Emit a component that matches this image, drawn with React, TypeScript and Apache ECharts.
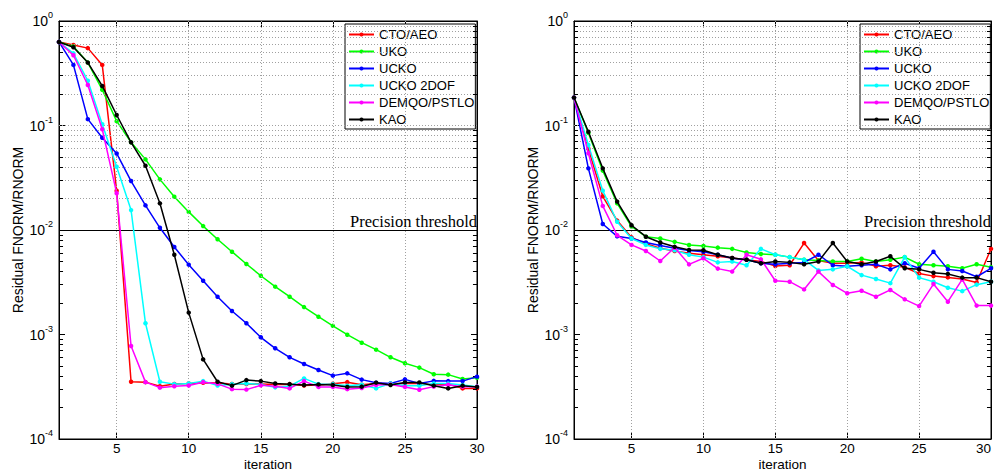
import React, { useEffect, useRef } from 'react';
import * as echarts from 'echarts';

const iterations = [1, 2, 3, 4, 5, 6, 7, 8, 9, 10, 11, 12, 13, 14, 15, 16, 17, 18, 19, 20, 21, 22, 23, 24, 25, 26, 27, 28, 29, 30];
const seriesNames = ['CTO/AEO', 'UKO', 'UCKO', 'UCKO 2DOF', 'DEMQO/PSTLO', 'KAO'];
const seriesColors = ['#ff0000', '#00ff00', '#0000ff', '#00ffff', '#ff00ff', '#000000'];
const xTickLabels = [5, 10, 15, 20, 25, 30];
const xGridValues = [5, 10, 15, 20, 25];
const decadeGridValues = [1e-3, 1e-2, 1e-1];
const minorMantissas = [2, 3, 4, 5, 6, 7, 8, 9];
const minorDecades = [1e-4, 1e-3, 1e-2, 1e-1];
const thresholdValue = 0.01;
const thresholdLabel = 'Precision threshold';

// Left panel
const leftCTO = [0.63, 0.59, 0.55, 0.38, 0.0238, 3.53e-4, 3.5e-4, 3.2e-4, 3.36e-4, 3.4e-4, 3.45e-4, 3.43e-4, 3.36e-4, 3.36e-4, 3.36e-4, 3.33e-4, 3.35e-4, 3.25e-4, 3.28e-4, 3.38e-4, 3.5e-4, 3.3e-4, 3.4e-4, 3.38e-4, 3.4e-4, 3.4e-4, 3.3e-4, 3.35e-4, 3.05e-4, 3.05e-4];
const leftUKO = [0.63, 0.57, 0.4, 0.22, 0.11, 0.069, 0.0474, 0.0305, 0.0208, 0.0149, 0.0109, 0.00815, 0.0062, 0.00473, 0.00365, 0.00287, 0.0023, 0.00183, 0.00148, 0.00121, 0.000996, 0.000835, 0.000716, 0.000605, 0.00053, 0.000482, 0.000416, 0.000413, 0.000375, 0.000385];
const leftUCKO = [0.63, 0.38, 0.115, 0.0764, 0.054, 0.0294, 0.0172, 0.0105, 0.00688, 0.00466, 0.00327, 0.0023, 0.00168, 0.00128, 0.00094, 0.000738, 0.000605, 0.000522, 0.000457, 0.000404, 0.000425, 0.00037, 0.000346, 0.00034, 0.000372, 0.00034, 0.00036, 0.000358, 0.000358, 0.000395];
const leftUCKO2 = [0.63, 0.49, 0.268, 0.103, 0.0403, 0.0155, 0.00128, 0.000353, 0.000335, 0.00034, 0.000358, 0.000325, 0.000335, 0.00034, 0.000333, 0.000312, 0.00032, 0.00038, 0.000335, 0.000335, 0.000323, 0.000331, 0.000305, 0.00034, 0.000323, 0.000323, 0.00034, 0.00034, 0.000329, 0.000317];
const leftDEMQO = [0.63, 0.47, 0.244, 0.092, 0.0225, 0.000776, 0.00035, 0.00031, 0.00032, 0.000325, 0.00035, 0.000337, 0.0003, 0.000297, 0.000326, 0.00032, 0.000305, 0.000358, 0.000315, 0.000315, 0.0003, 0.000307, 0.000329, 0.000333, 0.000315, 0.000296, 0.000317, 0.000331, 0.000317, 0.000317];
const leftKAO = [0.63, 0.56, 0.4, 0.239, 0.126, 0.069, 0.0412, 0.018, 0.0058, 0.00162, 0.000578, 0.000353, 0.000324, 0.000366, 0.000358, 0.00034, 0.000335, 0.000329, 0.000333, 0.000329, 0.000315, 0.000317, 0.000346, 0.000329, 0.000348, 0.000348, 0.000324, 0.000305, 0.000324, 0.000315];

// Right panel
const rightCTO = [0.185, 0.06, 0.021, 0.0123, 0.0085, 0.0074, 0.0067, 0.0063, 0.006, 0.0058, 0.0056, 0.0054, 0.0052, 0.005, 0.00453, 0.0046, 0.0075, 0.0051, 0.0048, 0.0048, 0.0049, 0.0045, 0.0046, 0.0044, 0.00384, 0.00362, 0.00352, 0.0034, 0.00315, 0.0066];
const rightUKO = [0.185, 0.085, 0.037, 0.018, 0.0108, 0.00863, 0.0083, 0.0077, 0.00718, 0.00703, 0.00678, 0.0066, 0.0061, 0.0059, 0.0058, 0.0055, 0.0052, 0.0051, 0.005, 0.005, 0.0053, 0.005, 0.0052, 0.0055, 0.0047, 0.0046, 0.0045, 0.0043, 0.0047, 0.0044];
const rightUCKO = [0.185, 0.0389, 0.0114, 0.0087, 0.0083, 0.0076, 0.0071, 0.0067, 0.00635, 0.0062, 0.0058, 0.00536, 0.0052, 0.0048, 0.0047, 0.0048, 0.0049, 0.0058, 0.0046, 0.0045, 0.0046, 0.0047, 0.0042, 0.0048, 0.0043, 0.0062, 0.0042, 0.00405, 0.00357, 0.0043];
const rightUCKO2 = [0.185, 0.065, 0.0238, 0.012, 0.0083, 0.0072, 0.0066, 0.0064, 0.0058, 0.0055, 0.0049, 0.005, 0.0046, 0.0066, 0.0058, 0.0055, 0.0052, 0.0041, 0.0042, 0.0045, 0.0037, 0.0034, 0.0031, 0.0055, 0.0035, 0.0032, 0.0028, 0.0026, 0.003, 0.0032];
const rightDEMQO = [0.185, 0.0542, 0.017, 0.0089, 0.0072, 0.0063, 0.00505, 0.0068, 0.00469, 0.00536, 0.00427, 0.004, 0.0058, 0.00524, 0.00327, 0.0032, 0.0027, 0.004, 0.00298, 0.00248, 0.00262, 0.0023, 0.00267, 0.00217, 0.00187, 0.00304, 0.00206, 0.00337, 0.00189, 0.00189];
const rightKAO = [0.185, 0.0872, 0.0389, 0.0187, 0.0111, 0.00863, 0.0076, 0.0069, 0.00645, 0.0064, 0.0058, 0.0054, 0.0052, 0.0048, 0.005, 0.0049, 0.0047, 0.005, 0.0075, 0.005, 0.0047, 0.005, 0.0056, 0.0043, 0.0042, 0.0039, 0.0038, 0.0035, 0.0035, 0.0032];

const leftData = [leftCTO, leftUKO, leftUCKO, leftUCKO2, leftDEMQO, leftKAO];
const rightData = [rightCTO, rightUKO, rightUCKO, rightUCKO2, rightDEMQO, rightKAO];

const SANS = 'Liberation Sans, Arial, Helvetica, sans-serif';
const SERIF = 'Liberation Serif, Times New Roman, serif';

function buildPanel(gridIndex: number, data: number[][]) {
  const xBottom = gridIndex * 2;
  const yLeft = gridIndex * 2;

  const minorValues: number[] = [];
  minorDecades.forEach((d) => minorMantissas.forEach((m) => minorValues.push(m * d)));

  const gridStyle = { color: '#a0a0a0', width: 1, type: [1, 2] as number[] };
  const markData: any[] = [];
  minorValues.concat(decadeGridValues).forEach((v) => {
    markData.push({ yAxis: v, lineStyle: gridStyle });
  });
  xGridValues.forEach((v) => {
    markData.push({ xAxis: v, lineStyle: gridStyle });
  });
  const tickStyle = { color: '#000', width: 1, type: 'solid' };
  minorValues.forEach((v) => {
    markData.push([{ coord: [1, v], lineStyle: tickStyle }, { coord: [1.28, v] }]);
    markData.push([{ coord: [29.72, v], lineStyle: tickStyle }, { coord: [30, v] }]);
  });
  markData.push({
    yAxis: thresholdValue,
    lineStyle: { color: '#000', width: 1, type: 'solid' },
    label: {
      show: true,
      formatter: thresholdLabel,
      position: 'insideEndTop',
      distance: 0,
      color: '#000',
      fontFamily: SERIF,
      fontSize: 16.5,
    },
  });

  const helper = {
    type: 'line',
    name: '__grid' + gridIndex,
    xAxisIndex: xBottom,
    yAxisIndex: yLeft,
    data: [[1, 1]],
    showSymbol: false,
    lineStyle: { opacity: 0 },
    silent: true,
    z: 1,
    markLine: {
      silent: true,
      symbol: ['none', 'none'],
      label: { show: false },
      animation: false,
      data: markData,
    },
  };

  const series = data.map((vals, i) => ({
    type: 'line',
    name: seriesNames[i],
    xAxisIndex: xBottom,
    yAxisIndex: yLeft,
    data: vals.map((v, k) => [iterations[k], v]),
    symbol: 'circle',
    symbolSize: 4.5,
    color: seriesColors[i],
    lineStyle: { width: 1.5, color: seriesColors[i] },
    itemStyle: { color: seriesColors[i] },
    z: 3 + i,
  }));

  const axisLine = { show: true, lineStyle: { color: '#000', width: 1 } };
  const xAxes = [
    {
      gridIndex,
      type: 'value',
      position: 'bottom',
      min: 1,
      max: 30,
      axisLine,
      axisTick: { show: true, inside: true, length: 6, customValues: xTickLabels, lineStyle: { color: '#000' } },
      axisLabel: {
        show: true,
        customValues: xTickLabels,
        color: '#000',
        fontSize: 13.5,
        lineHeight: 13,
        fontFamily: SANS,
        margin: 3,
        alignMaxLabel: gridIndex === 1 ? 'right' : 'center',
      },
      splitLine: { show: false },
      name: 'iteration',
      nameLocation: 'middle',
      nameGap: 18.5,
      nameMoveOverlap: false,
      nameTextStyle: { color: '#000', fontSize: 13.5, lineHeight: 13, fontFamily: SANS },
    },
    {
      gridIndex,
      type: 'value',
      position: 'top',
      min: 1,
      max: 30,
      axisLine,
      axisTick: { show: true, inside: true, length: 6, customValues: xTickLabels, lineStyle: { color: '#000' } },
      axisLabel: { show: false },
      splitLine: { show: false },
    },
  ];
  const yAxes = [
    {
      gridIndex,
      type: 'log',
      logBase: 10,
      position: 'left',
      min: 1e-4,
      max: 1,
      splitNumber: 4,
      axisLine,
      axisTick: { show: true, inside: true, length: 6, lineStyle: { color: '#000' } },
      axisLabel: {
        show: true,
        margin: 6,
        formatter: (v: number) => `{b|10}{s|${Math.round(Math.log10(v))}}`,
        rich: {
          b: { fontSize: 14, fontFamily: SANS, color: '#000' },
          s: { fontSize: 9, fontFamily: SANS, color: '#000', padding: [0, 0, 12, 0] },
        },
      },
      splitLine: { show: false },
      minorTick: { show: false },
      name: 'Residual FNORM/RNORM',
      nameLocation: 'middle',
      nameGap: 34,
      nameMoveOverlap: false,
      nameTextStyle: { color: '#000', fontSize: 14, fontFamily: SANS },
    },
    {
      gridIndex,
      type: 'log',
      logBase: 10,
      position: 'right',
      min: 1e-4,
      max: 1,
      splitNumber: 4,
      axisLine,
      axisTick: { show: true, inside: true, length: 6, lineStyle: { color: '#000' } },
      axisLabel: { show: false },
      splitLine: { show: false },
    },
  ];
  return { xAxes, yAxes, series: [helper, ...series] };
}

export default function App() {
  const ref = useRef<HTMLDivElement>(null);
  useEffect(() => {
    if (!ref.current) return;
    const chart = echarts.init(ref.current, undefined, { renderer: 'svg' });
    const left = buildPanel(0, leftData);
    const right = buildPanel(1, rightData);
    const legendBase = {
      orient: 'vertical',
      data: seriesNames,
      backgroundColor: '#fff',
      borderColor: '#000',
      borderWidth: 1,
      borderRadius: 0,
      padding: [3, 1, 2, 3],
      itemWidth: 25,
      itemHeight: 5,
      itemGap: 2,
      selectedMode: false,
      textStyle: { color: '#000', fontSize: 13, fontFamily: SANS, lineHeight: 15 },
    };
    chart.setOption({
      animation: false,
      backgroundColor: '#fff',
      grid: [
        { left: 59, top: 21, width: 418, height: 418, show: true, borderColor: '#000', borderWidth: 1, backgroundColor: 'transparent', containLabel: false, outerBoundsMode: 'none' },
        { left: 574, top: 21, width: 417, height: 418, show: true, borderColor: '#000', borderWidth: 1, backgroundColor: 'transparent', containLabel: false, outerBoundsMode: 'none' },
      ],
      legend: [
        { ...legendBase, left: 345, top: 24 },
        { ...legendBase, left: 860, top: 24 },
      ],
      xAxis: [...left.xAxes, ...right.xAxes],
      yAxis: [...left.yAxes, ...right.yAxes],
      series: [...left.series, ...right.series],
    });
    return () => chart.dispose();
  }, []);
  return <div ref={ref} style={{ position: 'fixed', left: 0, top: 0, width: 995, height: 471 }} />;
}
